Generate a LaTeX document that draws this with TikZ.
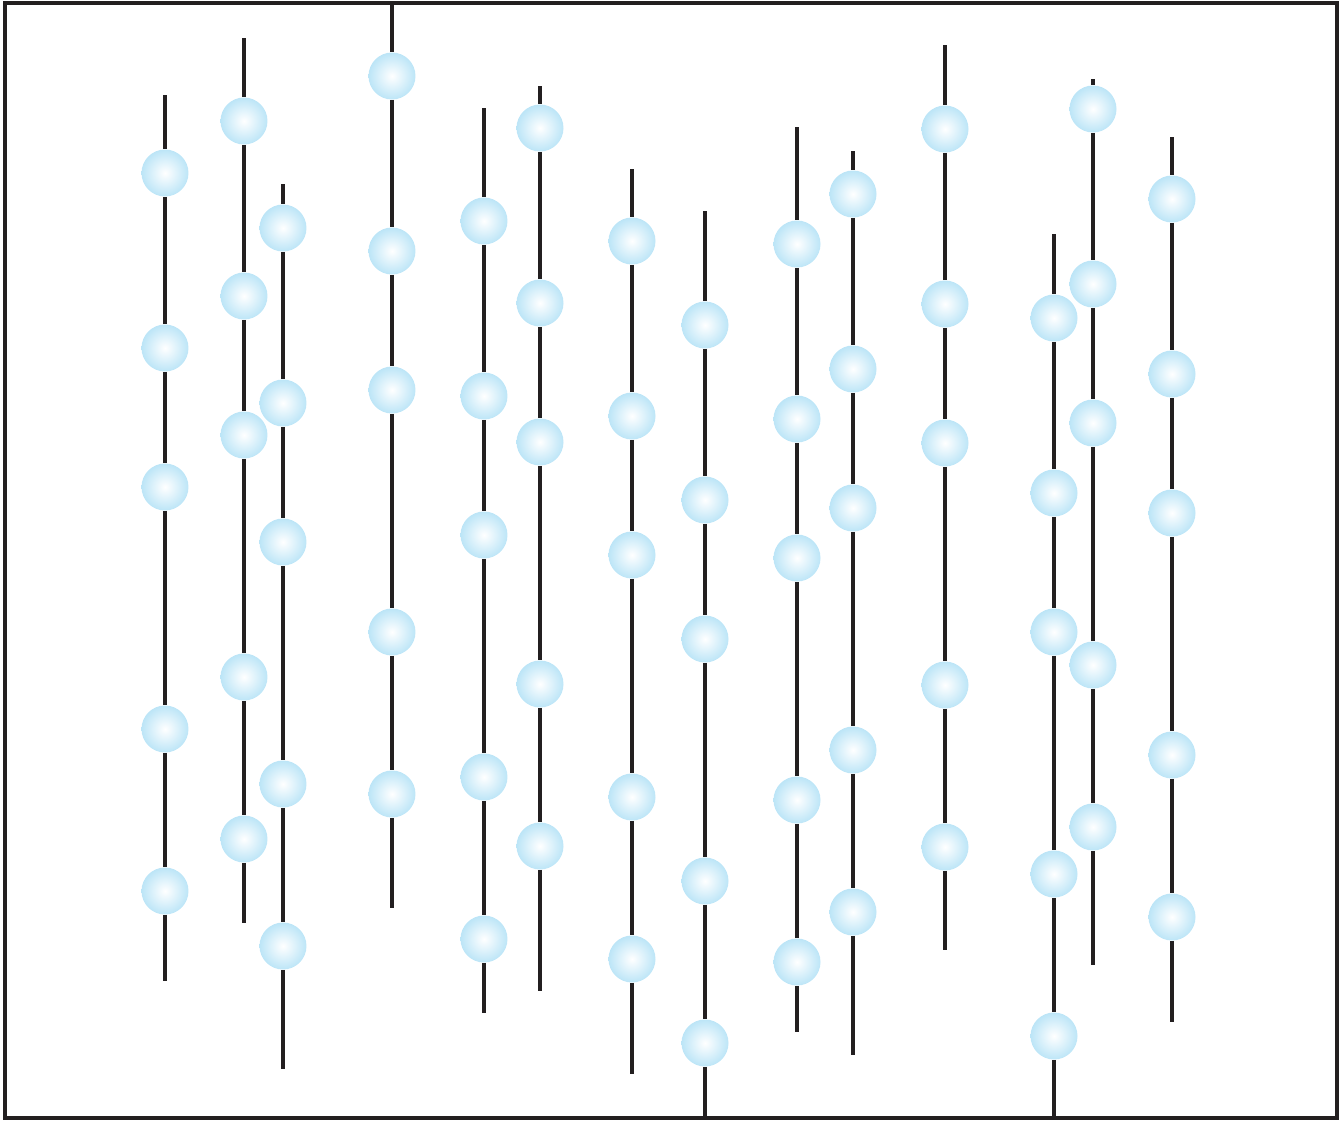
\documentclass[tikz,border=0pt]{standalone}
\usetikzlibrary{calc}
\definecolor{beadblue}{RGB}{188,229,247}
\definecolor{wiregray}{RGB}{35,31,32}
\tikzset{
	bead/.style={circle, inner sep=0pt, minimum size=0.94cm,
		inner color=white, outer color=beadblue},
	wire/.style={line width=1.8pt, draw=wiregray},
	boxframe/.style={line width=1.8pt, draw=wiregray}
}

\begin{document}
\begin{tikzpicture}[x=0.02cm, y=-0.02cm]
	\useasboundingbox (0,0) rectangle (1343,1120);
	\draw[boxframe] (5,3) rectangle (1337,1118);
	% strand number / x / wire top / first bead / wire bottom
	\foreach \n/\x/\top/\y/\bot in {1/165/95/173/981, 2/244/38/121/923,
			3/283/184/228/1069, 4/392/3/76/908, 5/484/108/221/1013,
			6/540/86/128/991, 7/632/169/241/1074, 8/705/211/325/1116,
			9/797/127/244/1032, 10/853/151/194/1055, 11/945/45/129/950,
			12/1054/234/318/1118, 13/1093/79/109/965, 14/1172/137/199/1022}{
		\coordinate (t\n) at (\x,\top);
		\coordinate (e\n) at (\x,\bot);
		\foreach \k/\d in {1/0, 2/175, 3/314, 4/556, 5/718}
			\node[bead] (b\n-\k) at (\x,\y+\d) {};
		\draw[wire] (t\n) -- (b\n-1) -- (b\n-2) -- (b\n-3) -- (b\n-4) -- (b\n-5) -- (e\n);
	}
\end{tikzpicture}
\end{document}
